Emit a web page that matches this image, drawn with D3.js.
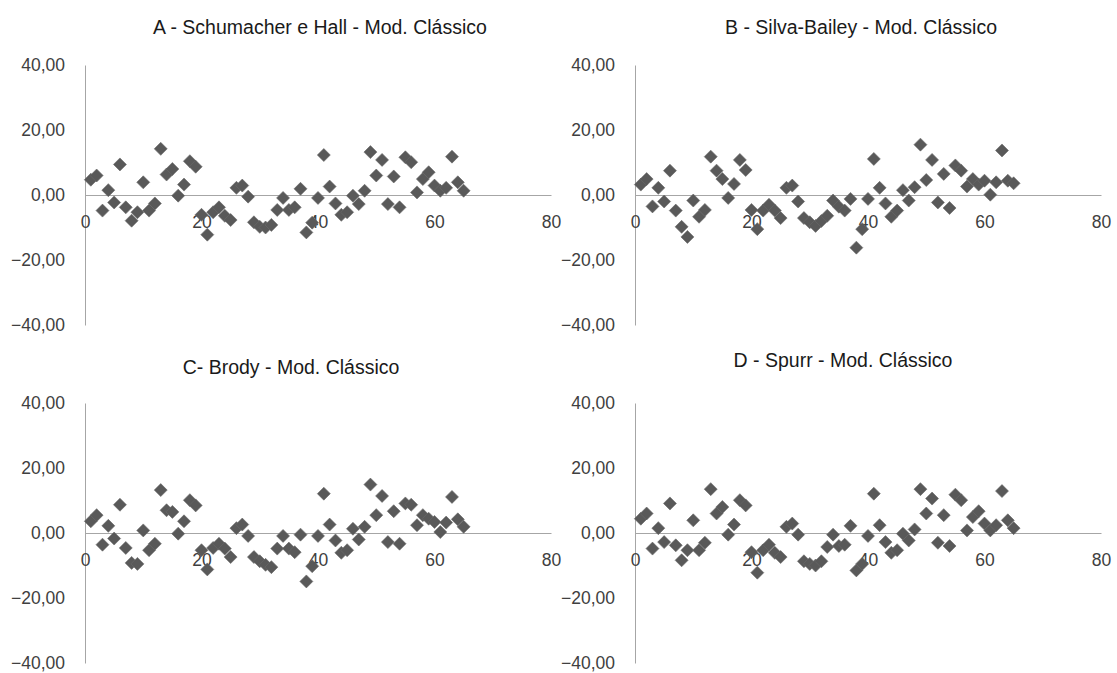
<!DOCTYPE html>
<html>
<head>
<meta charset="utf-8">
<script src="https://cdn.jsdelivr.net/npm/d3@7"></script>
<style>
  body { margin: 0; background: #fff; }
  svg { display: block; font-family: "Liberation Sans", Arial, sans-serif; }
  .axis text { fill: #404040; font-size: 17.5px; }
  .axis path { stroke: #a6a6a6; }
  .title { fill: #1a1a1a; font-size: 19.5px; }
</style>
</head>
<body>
<svg width="1117" height="673"></svg>
<script>
// observation number (x) and residuals (y) for each model
var obs = d3.range(1, 66);

var titles = [
  "A - Schumacher e Hall - Mod. Clássico",
  "B - Silva-Bailey - Mod. Clássico",
  "C- Brody - Mod. Clássico",
  "D - Spurr - Mod. Clássico"
];

var schumacher = [4.7, 6.0, -4.8, 1.5, -2.3, 9.4, -3.8, -7.9, -5.3, 3.9,
  -4.8, -2.6, 14.2, 6.3, 8.0, -0.2, 3.2, 10.4, 8.7, -6.1,
  -12.2, -5.3, -3.8, -6.4, -7.7, 2.2, 2.9, -0.5, -8.4, -9.8,
  -10.0, -9.2, -4.6, -0.9, -4.6, -3.8, 1.9, -11.5, -8.5, -0.9,
  12.3, 2.6, -2.6, -6.1, -5.3, -0.2, -2.8, 1.3, 13.2, 6.0,
  10.8, -2.8, 5.7, -3.8, 11.6, 10.1, 0.8, 4.9, 7.0, 2.9,
  1.3, 2.2, 11.8, 3.9, 1.3];

var silvaBailey = [3.2, 4.9, -3.5, 2.2, -2.0, 7.5, -4.8, -9.8, -12.9, -1.7,
  -6.7, -4.6, 11.8, 7.5, 4.9, -0.9, 3.4, 10.8, 7.7, -4.6,
  -10.5, -4.8, -3.0, -4.8, -7.1, 2.2, 2.9, -2.0, -7.1, -8.4,
  -9.5, -8.0, -6.4, -1.7, -3.6, -4.8, -1.2, -16.2, -10.5, -1.2,
  11.1, 2.2, -2.6, -6.7, -4.8, 1.5, -1.7, 2.4, 15.5, 4.6,
  10.8, -2.3, 6.5, -4.0, 9.1, 7.5, 2.6, 4.9, 3.2, 4.4,
  0.1, 3.9, 13.7, 4.4, 3.6];

var brody = [3.6, 5.5, -3.6, 2.2, -1.7, 8.7, -4.6, -9.2, -9.5, 0.8,
  -5.3, -3.3, 13.2, 7.0, 6.5, -0.2, 3.6, 10.1, 8.5, -5.3,
  -11.2, -4.6, -3.3, -4.8, -7.4, 1.5, 2.6, -0.9, -7.4, -8.7,
  -9.8, -10.5, -4.8, -0.9, -4.8, -5.9, -0.5, -14.9, -10.2, -0.9,
  12.1, 2.6, -2.3, -6.1, -5.3, 1.3, -2.0, 1.9, 14.9, 5.5,
  11.4, -2.8, 6.7, -3.3, 9.1, 8.7, 2.4, 5.5, 4.4, 3.4,
  0.3, 3.2, 11.1, 4.2, 1.9];

var spurr = [4.4, 6.0, -4.8, 1.5, -2.8, 9.1, -3.8, -8.4, -5.3, 3.9,
  -5.3, -3.0, 13.5, 6.0, 8.0, -0.5, 2.6, 10.1, 8.5, -5.9,
  -12.2, -5.3, -3.6, -6.1, -7.4, 1.9, 2.9, -0.5, -8.7, -9.5,
  -10.0, -8.7, -4.3, -0.5, -4.0, -3.6, 2.2, -11.5, -9.5, -0.9,
  12.1, 2.4, -2.8, -6.1, -5.3, -0.2, -2.3, 1.1, 13.5, 6.0,
  10.6, -3.0, 5.5, -4.0, 11.8, 10.1, 0.8, 4.9, 6.7, 2.9,
  0.8, 2.4, 12.9, 3.9, 1.5];

var series = [schumacher, silvaBailey, brody, spurr];

var xTicks = [0, 20, 40, 60, 80];
var yTicks = [-40, -20, 0, 20, 40];

// layout of the four panels (plot box and title anchor)
var panels = [
  {left: 85,  top: 65,  tx: 320, ty: 34},
  {left: 635, top: 65,  tx: 861, ty: 34},
  {left: 85,  top: 403, tx: 291, ty: 374},
  {left: 635, top: 403, tx: 843, ty: 367}
];
var plotW = 466, plotH = 260;

var svg = d3.select("svg");
var comma = function(d) { return d3.format(".2f")(d).replace(".", ","); };

panels.forEach(function(p, k) {
  var x = d3.scaleLinear().domain([0, 80]).range([0, plotW]);
  var y = d3.scaleLinear().domain([-40, 40]).range([plotH, 0]);

  svg.append("text")
    .attr("class", "title")
    .attr("x", p.tx)
    .attr("y", p.ty)
    .attr("text-anchor", "middle")
    .text(titles[k]);

  var g = svg.append("g").attr("transform", "translate(" + p.left + "," + p.top + ")");

  // vertical axis
  g.append("g")
    .attr("class", "axis")
    .call(d3.axisLeft(y).tickValues(yTicks).tickFormat(comma).tickSize(0).tickPadding(20))
    .call(function(a) { a.select(".domain").attr("stroke", "#a6a6a6"); });

  // horizontal axis crossing at zero
  g.append("g")
    .attr("class", "axis")
    .attr("transform", "translate(0," + y(0) + ")")
    .call(d3.axisBottom(x).tickValues(xTicks).tickFormat(d3.format("d")).tickSize(0).tickPadding(21))
    .call(function(a) { a.select(".domain").attr("stroke", "#bcbcbc"); });

  // residual points
  g.selectAll(".pt")
    .data(series[k])
    .enter().append("path")
    .attr("class", "pt")
    .attr("d", "M0,-6.5L6.5,0L0,6.5L-6.5,0Z")
    .attr("transform", function(d, i) { return "translate(" + x(obs[i]) + "," + y(d) + ")"; })
    .attr("fill", "#595959")
    .attr("stroke", "#6a6a6a")
    .attr("stroke-width", 0.6);
});
</script>
</body>
</html>
